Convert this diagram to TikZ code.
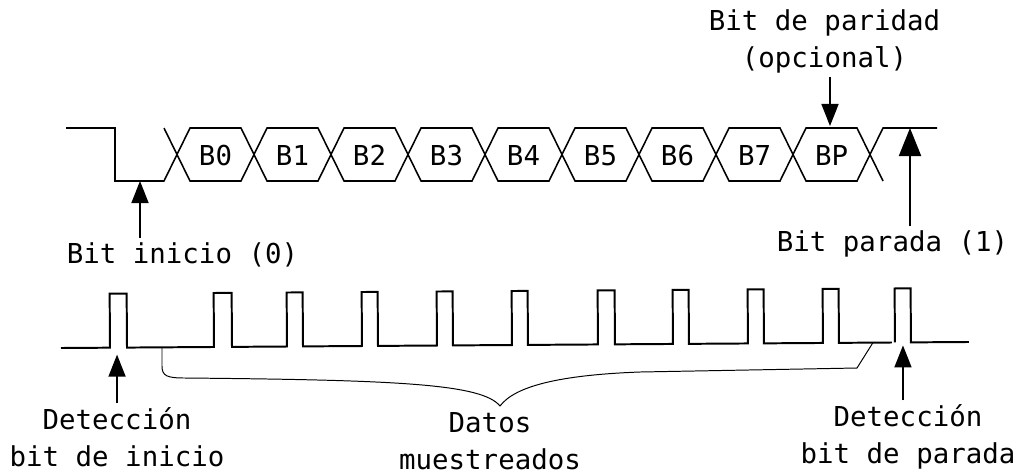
\documentclass[tikz,border=0pt]{standalone}
\usepackage{fontspec}
\setmainfont{DejaVu Sans Mono}
\usetikzlibrary{arrows.meta}
\begin{document}
\begin{tikzpicture}[x=0.025cm, y=-0.025cm,
  sig/.style={line width=1.1pt, line join=miter},
  pulse/.style={line width=1.4pt, line join=miter},
  brace/.style={line width=0.7pt},
  arr/.style={line width=1.2pt, -{Triangle[width=0.425cm, length=0.55cm]}},
  bigarr/.style={line width=1.4pt, -{Triangle[width=0.55cm, length=0.7cm]}},
  lbl/.style={inner sep=0pt, outer sep=3pt, align=center,
    font=\fontsize{19.5}{26}\selectfont},
  bitlbl/.style={inner sep=0pt, anchor=base, font=\fontsize{19.5}{23}\selectfont}
]
\useasboundingbox (0,0) rectangle (1019,475);

% serial frame: two crossing traces forming the bit cells
\draw[sig] (164,128) -- (190,181) -- (241,181) -- (267,128) -- (318,128)
  -- (344,181) -- (395,181) -- (421,128) -- (472,128) -- (498,181)
  -- (549,181) -- (575,128) -- (626,128) -- (652,181) -- (703,181)
  -- (729,128) -- (780,128) -- (806,181) -- (857,181) -- (883,128) -- (937,128);
\draw[sig] (66,128) -- (115,128) -- (115,181) -- (164,181) -- (190,128)
  -- (241,128) -- (267,181) -- (318,181) -- (344,128) -- (395,128)
  -- (421,181) -- (472,181) -- (498,128) -- (549,128) -- (575,181)
  -- (626,181) -- (652,128) -- (703,128) -- (729,181) -- (780,181)
  -- (806,128) -- (857,128) -- (883,181);

% bit names, all on one baseline
\node[bitlbl] (b0) at (215.5,165) {B0};
\node[bitlbl] (b1) at (292.5,165) {B1};
\node[bitlbl] (b2) at (369.5,165) {B2};
\node[bitlbl] (b3) at (446.5,165) {B3};
\node[bitlbl] (b4) at (523.5,165) {B4};
\node[bitlbl] (b5) at (600.5,165) {B5};
\node[bitlbl] (b6) at (677.5,165) {B6};
\node[bitlbl] (b7) at (754.5,165) {B7};
\node[bitlbl] (bp) at (831.5,165) {BP};

\coordinate (inicioTip) at (140,181);
\coordinate (paridadTip) at (830,126);
\coordinate (paradaTip) at (910,128);

% sampling pulses
\begin{scope}[rotate around={0.38:(61,348)}]
  \draw[pulse] (61,348) -- (110,348) -- (110,294) -- (127,294) -- (127,348)
    -- (214,348) -- (214,294) -- (232,294) -- (232,348)
    -- (287,348) -- (287,294) -- (303,294) -- (303,348)
    -- (362,348) -- (362,294) -- (378,294) -- (378,348)
    -- (437,348) -- (437,294) -- (453,294) -- (453,348)
    -- (512,348) -- (512,294) -- (528,294) -- (528,348)
    -- (598,348) -- (598,294) -- (615,294) -- (615,348)
    -- (673,348) -- (673,294) -- (689,294) -- (689,348)
    -- (748,348) -- (748,294) -- (764,294) -- (764,348)
    -- (823,348) -- (823,294) -- (839,294) -- (839,348) -- (892,348);
  \draw[pulse] (895,348) -- (895,294) -- (911,294) -- (911,348) -- (969,348);
  \coordinate (braceL) at (162,348);
  \coordinate (braceR) at (873,348);
  \coordinate (detIniTip) at (117,355);
  \coordinate (detParTip) at (903,351);
\end{scope}

% brace grouping the sampled data
\draw[brace] (braceL) -- (162,366) .. controls (162,376) and (167,378) .. (185,378)
  .. controls (400,380) and (482,384) .. (500,406)
  .. controls (515,386) and (560,375) .. (640,372)
  -- (857,368) -- (braceR);

% labels (base anchor sits on the last line)
\node[lbl, anchor=base] (lblPar) at (824.5,67) {Bit de paridad\\(opcional)};
\node[lbl, anchor=base] (lblIni) at (182.5,263) {Bit inicio (0)};
\node[lbl, anchor=base] (lblStop) at (892.5,251) {Bit parada (1)};
\node[lbl, anchor=base] (lblDetIni) at (117,466) {Detección\\bit de inicio};
\node[lbl, anchor=base] (lblDatos) at (490,469) {Datos\\muestreados};
\node[lbl, anchor=base] (lblDetPar) at (908,463) {Detección\\bit de parada};

% pointers
\draw[arr] (lblPar.south -| paridadTip) -- (paridadTip);
\draw[arr] (lblIni.north -| inicioTip) -- (inicioTip);
\draw[bigarr] (lblStop.north -| paradaTip) -- (paradaTip);
\draw[arr] (lblDetIni.north -| detIniTip) -- (detIniTip);
\draw[arr] (lblDetPar.north -| detParTip) -- (detParTip);
\end{tikzpicture}
\end{document}
